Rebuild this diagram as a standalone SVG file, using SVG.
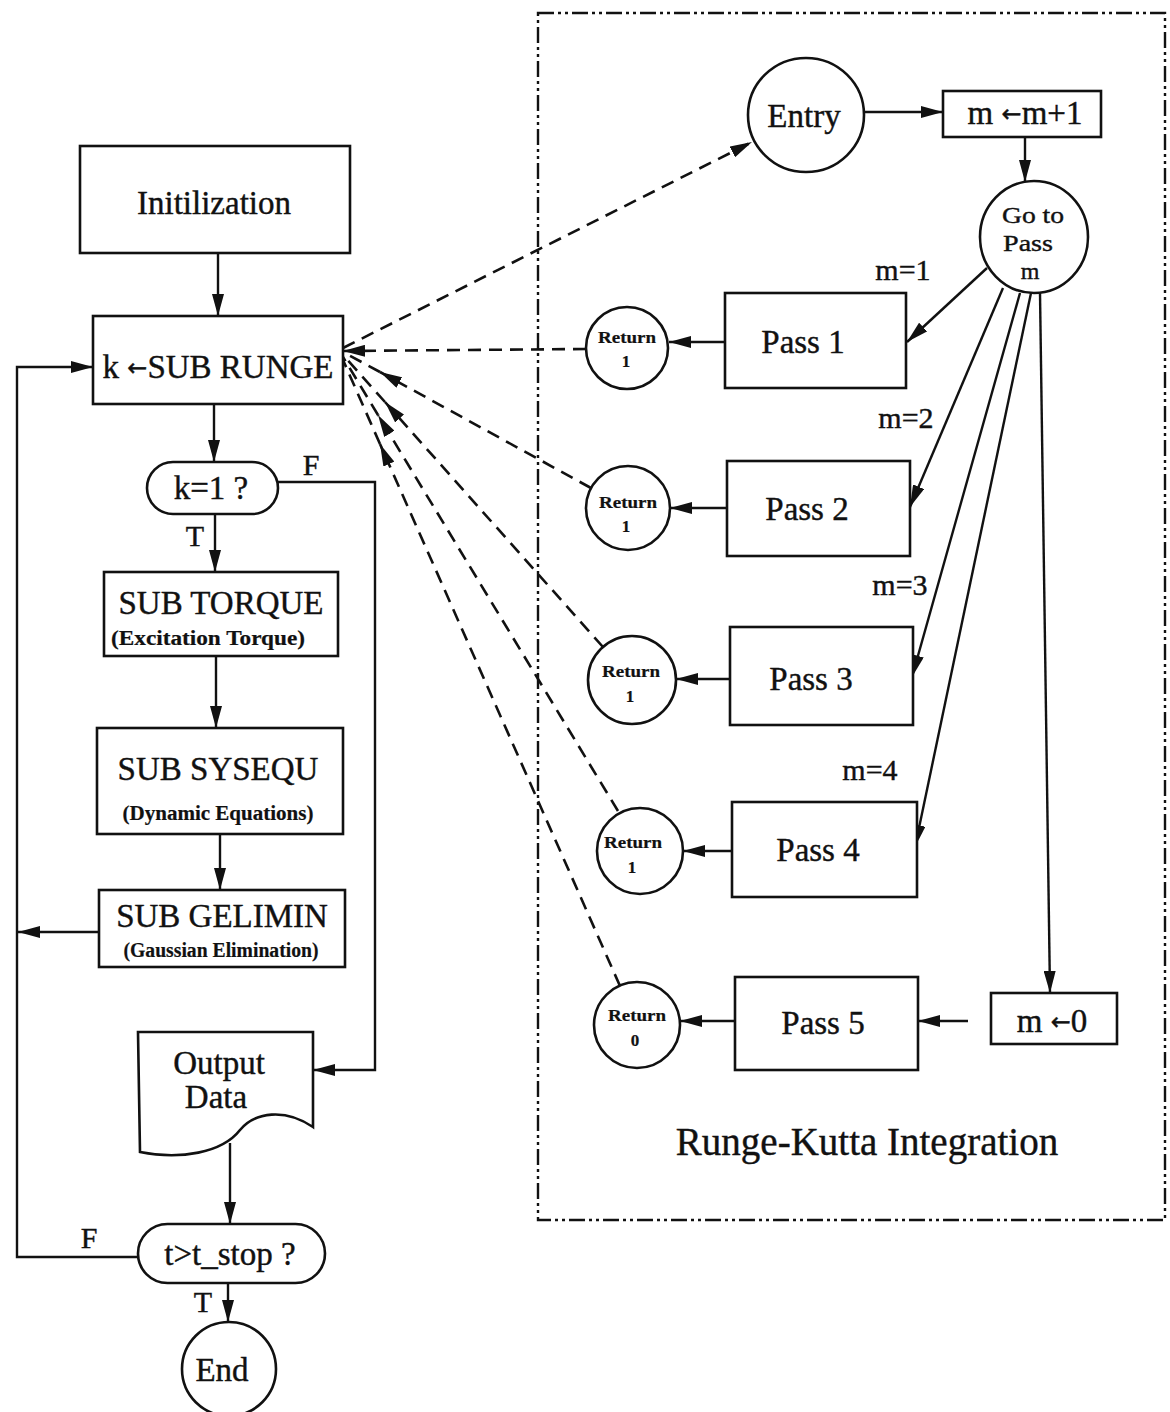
<svg xmlns="http://www.w3.org/2000/svg" width="1170" height="1412" viewBox="0 0 1170 1412">
  <defs>
    <marker id="ah" viewBox="0 0 22 12" refX="22" refY="6" markerWidth="22" markerHeight="12" markerUnits="userSpaceOnUse" orient="auto">
      <path d="M0,0 L22,6 L0,12 z" fill="#111"/>
    </marker>
    <style>
      .box { fill: #fff; stroke: #111; stroke-width: 2.6; }
      .ln { fill: none; stroke: #111; stroke-width: 2.4; }
      .dash { fill: none; stroke: #111; stroke-width: 2.6; stroke-dasharray: 13 8; }
      .frame { fill: none; stroke: #111; stroke-width: 2.4; stroke-dasharray: 16 4 3 4 3 4; }
      text { font-family: "Liberation Serif", "DejaVu Serif", serif; fill: #111; text-anchor: middle; stroke: #111; stroke-width: 0.4; }
      .arr { font-family: "DejaVu Sans", sans-serif; }
      .big { font-size: 33px; }
      .sub { font-size: 20px; font-weight: bold; stroke-width: 0.2; }
      .ret { font-size: 17px; font-weight: bold; stroke-width: 0.2; }
      .lbl { font-size: 30px; }
      .title { font-size: 39px; }
      .go { font-size: 24px; }
    </style>
  </defs>

  <!-- Runge-Kutta subroutine frame -->
  <rect class="frame" x="538" y="13" width="627" height="1207"/>
  <text class="title" x="867" y="1155">Runge-Kutta Integration</text>

  <!-- connectors -->
  <g id="connectors">
    <!-- main program flow -->
    <line class="ln" x1="218" y1="253" x2="218" y2="316" marker-end="url(#ah)"/>
    <line class="ln" x1="214" y1="404" x2="214" y2="462" marker-end="url(#ah)"/>
    <line class="ln" x1="215" y1="514" x2="215" y2="572" marker-end="url(#ah)"/>
    <line class="ln" x1="216" y1="656" x2="216" y2="728" marker-end="url(#ah)"/>
    <line class="ln" x1="220" y1="834" x2="220" y2="890" marker-end="url(#ah)"/>
    <polyline class="ln" points="278,482 375,482 375,1070 313,1070" marker-end="url(#ah)"/>
    <line class="ln" x1="99" y1="932" x2="18" y2="932" marker-end="url(#ah)"/>
    <polyline class="ln" points="138,1257 17,1257 17,367 93,367" marker-end="url(#ah)"/>
    <line class="ln" x1="230" y1="1143" x2="230" y2="1224" marker-end="url(#ah)"/>
    <line class="ln" x1="228" y1="1283" x2="228" y2="1322" marker-end="url(#ah)"/>

    <!-- subroutine internal flow -->
    <line class="ln" x1="865" y1="112" x2="943" y2="112" marker-end="url(#ah)"/>
    <line class="ln" x1="1025" y1="137" x2="1025" y2="182" marker-end="url(#ah)"/>
    <line class="ln" x1="987" y1="268" x2="907" y2="342" marker-end="url(#ah)"/>
    <line class="ln" x1="1003" y1="288" x2="910" y2="507" marker-end="url(#ah)"/>
    <line class="ln" x1="1020" y1="293" x2="912" y2="677" marker-end="url(#ah)"/>
    <line class="ln" x1="1031" y1="293" x2="915" y2="847" marker-end="url(#ah)"/>
    <line class="ln" x1="1040" y1="293" x2="1050" y2="993" marker-end="url(#ah)"/>
    <line class="ln" x1="968" y1="1021" x2="918" y2="1021" marker-end="url(#ah)"/>
    <line class="ln" x1="725" y1="342" x2="669" y2="342" marker-end="url(#ah)"/>
    <line class="ln" x1="727" y1="508" x2="670" y2="508" marker-end="url(#ah)"/>
    <line class="ln" x1="730" y1="679" x2="676" y2="679" marker-end="url(#ah)"/>
    <line class="ln" x1="732" y1="851" x2="683" y2="851" marker-end="url(#ah)"/>
    <line class="ln" x1="735" y1="1021" x2="680" y2="1021" marker-end="url(#ah)"/>

    <!-- call and return links -->
    <line class="dash" x1="343" y1="348" x2="752" y2="142" marker-end="url(#ah)"/>
    <line class="dash" x1="586" y1="349" x2="343" y2="351" marker-end="url(#ah)"/>
    <line class="dash" x1="591" y1="488" x2="380" y2="372" marker-end="url(#ah)"/>
    <line class="dash" x1="380" y1="372" x2="343" y2="352"/>
    <line class="dash" x1="603" y1="647" x2="385" y2="402" marker-end="url(#ah)"/>
    <line class="dash" x1="385" y1="402" x2="343" y2="355"/>
    <line class="dash" x1="618" y1="811" x2="378" y2="415" marker-end="url(#ah)"/>
    <line class="dash" x1="378" y1="415" x2="343" y2="357"/>
    <line class="dash" x1="620" y1="986" x2="380" y2="444" marker-end="url(#ah)"/>
    <line class="dash" x1="380" y1="444" x2="343" y2="360"/>
  </g>

  <!-- branch labels -->
  <text class="lbl" x="311" y="475">F</text>
  <text class="lbl" x="195" y="546">T</text>
  <text class="lbl" x="89" y="1248">F</text>
  <text class="lbl" x="203" y="1312">T</text>
  <text class="lbl" x="903" y="280">m=1</text>
  <text class="lbl" x="906" y="428">m=2</text>
  <text class="lbl" x="900" y="595">m=3</text>
  <text class="lbl" x="870" y="780">m=4</text>

  <!-- main program nodes -->
  <g id="init">
    <rect class="box" x="80" y="146" width="270" height="107"/>
    <text class="big" x="214" y="214">Initilization</text>
  </g>
  <g id="runge-call">
    <rect class="box" x="93" y="316" width="250" height="88"/>
    <text class="big" x="218" y="378" font-size="31">k <tspan class="arr" font-size="24" dy="-2">←</tspan><tspan dy="2">SUB RUNGE</tspan></text>
  </g>
  <g id="k-test">
    <rect class="box" x="147" y="462" width="131" height="52" rx="26"/>
    <text class="big" x="211" y="499">k=1 ?</text>
  </g>
  <g id="torque">
    <rect class="box" x="104" y="572" width="234" height="84"/>
    <text class="big" x="221" y="614">SUB TORQUE</text>
    <text class="sub" x="208" y="645" textLength="194" lengthAdjust="spacingAndGlyphs">(Excitation Torque)</text>
  </g>
  <g id="sysequ">
    <rect class="box" x="97" y="728" width="246" height="106"/>
    <text class="big" x="218" y="780">SUB SYSEQU</text>
    <text class="sub" x="218" y="820" textLength="191" lengthAdjust="spacingAndGlyphs">(Dynamic Equations)</text>
  </g>
  <g id="gelimin">
    <rect class="box" x="99" y="890" width="246" height="77"/>
    <text class="big" x="222" y="927">SUB GELIMIN</text>
    <text class="sub" x="221" y="957" textLength="195" lengthAdjust="spacingAndGlyphs">(Gaussian Elimination)</text>
  </g>
  <g id="output">
    <path class="box" d="M138,1032 H313 V1127 C285,1108 255,1112 240,1130 C222,1153 180,1160 140,1152 Z"/>
    <text class="big" x="219" y="1074">Output</text>
    <text class="big" x="216" y="1108">Data</text>
  </g>
  <g id="t-test">
    <rect class="box" x="138" y="1224" width="187" height="59" rx="29.5"/>
    <text class="big" x="230" y="1265">t&gt;t_stop ?</text>
  </g>
  <g id="end">
    <circle class="box" cx="229" cy="1369" r="47"/>
    <text class="big" x="222" y="1381">End</text>
  </g>

  <!-- Runge-Kutta subroutine nodes -->
  <g id="entry">
    <ellipse class="box" cx="806" cy="115" rx="58" ry="57"/>
    <text class="big" x="804" y="127">Entry</text>
  </g>
  <g id="m-inc">
    <rect class="box" x="943" y="91" width="158" height="46"/>
    <text class="big" x="1025" y="124" font-size="30">m <tspan class="arr" font-size="24" dy="-2">←</tspan><tspan dy="2">m+1</tspan></text>
  </g>
  <g id="goto-pass">
    <ellipse class="box" cx="1034" cy="237" rx="54" ry="56"/>
    <text class="go" x="1033" y="223" textLength="62" lengthAdjust="spacingAndGlyphs">Go to</text>
    <text class="go" x="1028" y="251" textLength="50" lengthAdjust="spacingAndGlyphs">Pass</text>
    <text class="go" x="1030" y="279">m</text>
  </g>
  <g id="pass1">
    <rect class="box" x="725" y="293" width="181" height="95"/>
    <text class="big" x="803" y="353">Pass 1</text>
  </g>
  <g id="pass2">
    <rect class="box" x="727" y="461" width="183" height="95"/>
    <text class="big" x="807" y="520">Pass 2</text>
  </g>
  <g id="pass3">
    <rect class="box" x="730" y="627" width="183" height="98"/>
    <text class="big" x="811" y="690">Pass 3</text>
  </g>
  <g id="pass4">
    <rect class="box" x="732" y="802" width="185" height="95"/>
    <text class="big" x="818" y="861">Pass 4</text>
  </g>
  <g id="pass5">
    <rect class="box" x="735" y="977" width="183" height="93"/>
    <text class="big" x="823" y="1034">Pass 5</text>
  </g>
  <g id="m-reset">
    <rect class="box" x="991" y="993" width="126" height="51"/>
    <text class="big" x="1052" y="1032" font-size="31">m <tspan class="arr" font-size="24" dy="-2">←</tspan><tspan dy="2">0</tspan></text>
  </g>
  <g id="return1">
    <circle class="box" cx="627" cy="348" r="41"/>
    <text class="ret" x="627" y="343" textLength="58" lengthAdjust="spacingAndGlyphs">Return</text>
    <text class="ret" x="626" y="367">1</text>
  </g>
  <g id="return2">
    <circle class="box" cx="628" cy="508" r="42"/>
    <text class="ret" x="628" y="508" textLength="58" lengthAdjust="spacingAndGlyphs">Return</text>
    <text class="ret" x="626" y="532">1</text>
  </g>
  <g id="return3">
    <circle class="box" cx="632" cy="680" r="44"/>
    <text class="ret" x="631" y="677" textLength="58" lengthAdjust="spacingAndGlyphs">Return</text>
    <text class="ret" x="630" y="702">1</text>
  </g>
  <g id="return4">
    <circle class="box" cx="640" cy="851" r="43"/>
    <text class="ret" x="633" y="848" textLength="58" lengthAdjust="spacingAndGlyphs">Return</text>
    <text class="ret" x="632" y="873">1</text>
  </g>
  <g id="return0">
    <circle class="box" cx="637" cy="1025" r="43"/>
    <text class="ret" x="637" y="1021" textLength="58" lengthAdjust="spacingAndGlyphs">Return</text>
    <text class="ret" x="635" y="1046">0</text>
  </g>
</svg>
